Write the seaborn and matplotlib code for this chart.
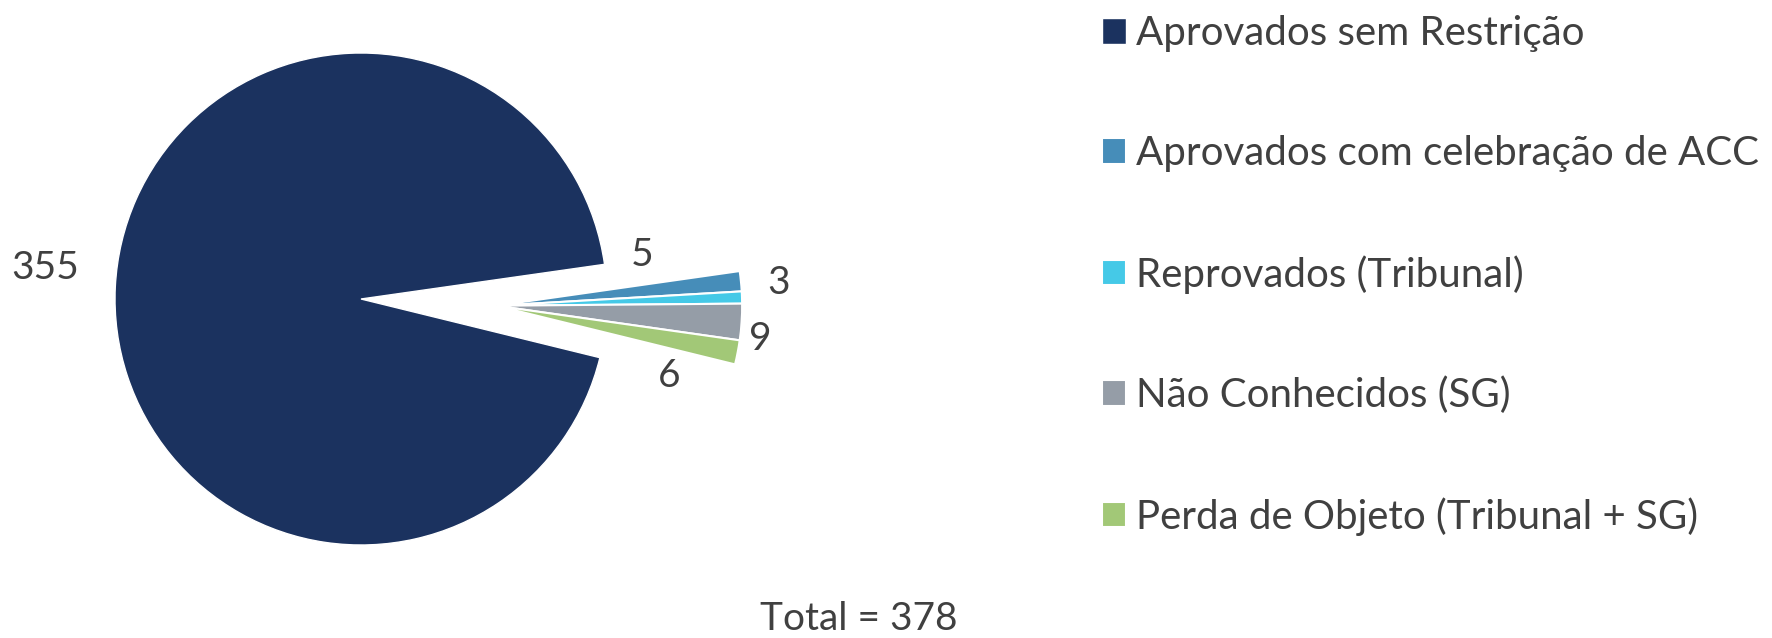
import numpy as np
import matplotlib
matplotlib.use('Agg')
import matplotlib.pyplot as plt
import seaborn as sns

categories = ['Aprovados sem Restrição', 'Aprovados com celebração de ACC',
              'Reprovados (Tribunal)', 'Não Conhecidos (SG)',
              'Perda de Objeto (Tribunal + SG)']
values = [355, 5, 3, 9, 6]
total_label = 'Total = 378'
colors = ['#1B325F', '#468DB9', '#45C9E7', '#959DA7', '#A2C877']

sns.set_theme(style='white')
plt.rcParams['font.family'] = ['Lato', 'DejaVu Sans']
text_color = '#404040'
fsize = 28

fig = plt.figure(figsize=(17.72, 6.38), dpi=100)
ax = fig.add_axes([0, 0, 900 / 1772, 1])

start = -13.8
# main pie: only the big slice is shown here
w1, _ = ax.pie(values, colors=colors, startangle=start, counterclock=False)
for w in w1[1:]:
    w.set_visible(False)

# small slices pulled out together along their common bisector
lo = min(w.theta1 for w in w1[1:])
hi = max(w.theta2 for w in w1[1:])
mid = np.deg2rad((lo + hi) / 2)
pull = 0.55
w2, _ = ax.pie(values, colors=colors, startangle=start, counterclock=False,
               center=(pull * np.cos(mid), pull * np.sin(mid)),
               wedgeprops=dict(edgecolor='white', linewidth=1.5))
w2[0].set_visible(False)

# value labels (radius, angle) around the pie centre
label_pos = [(1.29, 174.4), (1.155, 8.9), (1.70, 2.2), (1.63, -5.7), (1.29, -14.0)]
for v, (r, a) in zip(values, label_pos):
    t = np.deg2rad(a)
    ax.text(r * np.cos(t), r * np.sin(t), str(v), ha='center', va='center',
            fontsize=fsize, color=text_color)

ax.set_xlim(-361 / 246, (900 - 361) / 246)
ax.set_ylim(-(638 - 299) / 246, 299 / 246)
ax.axis('off')

fig.legend(handles=[w1[0]] + list(w2[1:]), labels=categories,
           loc='upper left', bbox_to_anchor=(1102 / 1772, 1 - 15 / 638),
           frameon=False, fontsize=29, labelcolor=text_color,
           handlelength=0.6, handleheight=0.6, handletextpad=0.25,
           labelspacing=2.06, borderpad=0, borderaxespad=0)

fig.text(859 / 1772, 1 - 619 / 638, total_label, ha='center', va='center',
         fontsize=fsize, color=text_color)

fig.savefig('out.png', dpi=100)
